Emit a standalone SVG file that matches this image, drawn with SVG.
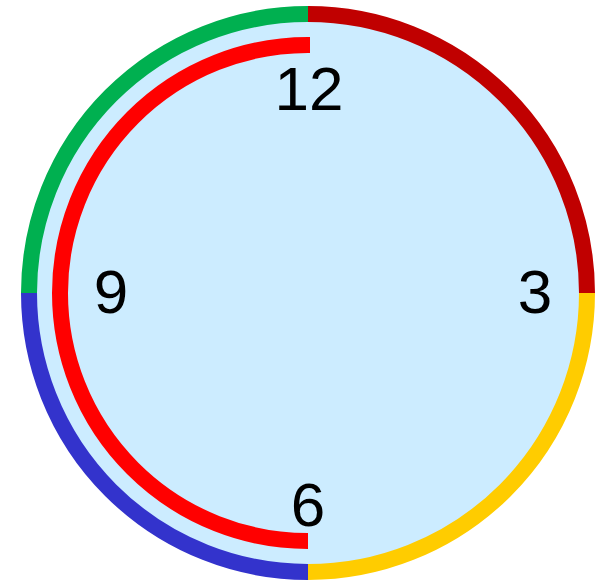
<svg xmlns="http://www.w3.org/2000/svg" width="604" height="580" viewBox="0 0 604 580">
<style>
.ring{fill:none;stroke-width:16;stroke-linecap:butt}
.num{font-family:"Liberation Sans",Arial,sans-serif;font-size:62px;fill:#000;text-anchor:middle}
</style>
<rect width="604" height="580" fill="#fff"/>
<g id="face"><circle cx="308" cy="293" r="279" fill="#CCECFF"/></g>
<g id="connectors">
<path class="ring" stroke="#00B050" d="M29,293 A279,279 0 0 1 308,14"/>
<path class="ring" stroke="#C00000" d="M308,14 A279,279 0 0 1 587,293"/>
<path class="ring" stroke="#FFCC00" d="M587,293 A279,279 0 0 1 308,572"/>
<path class="ring" stroke="#3333CC" d="M308,572 A279,279 0 0 1 29,293"/>
<path class="ring" stroke="#FF0000" d="M310,45 L308,45 A248,248 0 0 0 308,541"/>
</g>
<g id="n12"><text class="num" x="309" y="110">12</text></g>
<g id="n3"><text class="num" x="535" y="313">3</text></g>
<g id="n6"><text class="num" x="308" y="526">6</text></g>
<g id="n9"><text class="num" x="111" y="313">9</text></g>
</svg>
